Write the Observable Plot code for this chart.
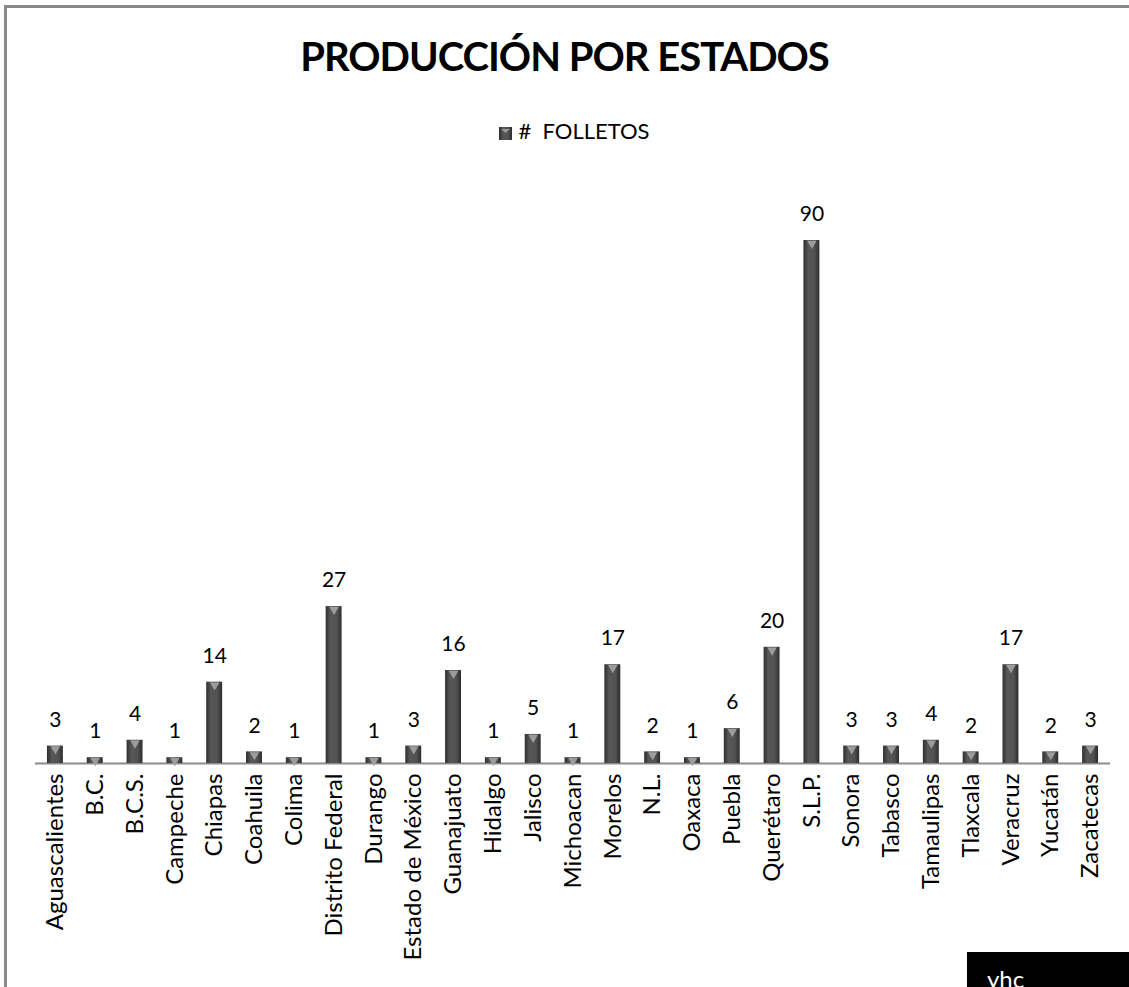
<!DOCTYPE html>
<html>
<head>
<meta charset="utf-8">
<script src="https://cdn.jsdelivr.net/npm/d3@7"></script>
<script src="https://cdn.jsdelivr.net/npm/@observablehq/plot@0.6"></script>
<style>
  html, body { margin: 0; padding: 0; background: #fff; overflow: hidden; }
  #page { position: relative; width: 1129px; height: 987px; overflow: hidden; font-family: Lato, "Open Sans", sans-serif; }
  #frame { position: absolute; left: 4px; top: 5px; width: 1140px; height: 1000px; border-top: 3px solid #8a8a8a; border-left: 3px solid #8a8a8a; box-sizing: border-box; }
  #title { position: absolute; left: 0; width: 1129px; top: 36px; text-align: center; font-weight: 700; font-size: 40px; letter-spacing: -1px; line-height: 1; color: #000; }
  #legend { position: absolute; left: 10px; width: 1129px; top: 120px; text-align: center; font-size: 22px; line-height: 1; color: #000; }
  #legend svg { vertical-align: -1px; margin-right: 6px; }
  #chart { position: absolute; left: 0; top: 160px; }
  #tag { position: absolute; left: 967px; top: 952px; width: 170px; height: 40px; background: #000; color: #fff; font-size: 24px; }
  #tag span { position: absolute; left: 20px; top: 15px; line-height: 1; }
</style>
</head>
<body>
<div id="page">
  <div id="frame"></div>
  <div id="title">PRODUCCIÓN POR ESTADOS</div>
  <div id="legend"><svg width="13" height="13"><defs><linearGradient id="legGrad" x1="0" x2="1"><stop offset="0" stop-color="#2f2f2f"/><stop offset="0.35" stop-color="#575757"/><stop offset="0.7" stop-color="#525252"/><stop offset="1" stop-color="#2c2c2c"/></linearGradient></defs><rect width="13" height="13" fill="url(#legGrad)"/><polygon points="2,2 11,2 6.5,6" fill="#9a9a9a"/></svg>#&nbsp;&nbsp;FOLLETOS</div>
  <div id="chart"></div>
  <div id="tag"><span>yhc</span></div>
</div>
<script>
const estados = ["Aguascalientes","B.C.","B.C.S.","Campeche","Chiapas","Coahuila","Colima","Distrito Federal","Durango","Estado de México","Guanajuato","Hidalgo","Jalisco","Michoacan","Morelos","N.L.","Oaxaca","Puebla","Querétaro","S.L.P.","Sonora","Tabasco","Tamaulipas","Tlaxcala","Veracruz","Yucatán","Zacatecas"];
const folletos = [3,1,4,1,14,2,1,27,1,3,16,1,5,1,17,2,1,6,20,90,3,3,4,2,17,2,3];

const data = estados.map((estado, i) => ({estado, n: folletos[i]}));

const chart = Plot.plot({
  width: 1129,
  height: 827,
  marginLeft: 35,
  marginRight: 19,
  marginTop: 80,
  marginBottom: 224,
  x: {domain: estados, paddingInner: 0.6, paddingOuter: 0.3, round: false, label: null, tickSize: 0, tickRotate: -90, tickPadding: 10},
  y: {domain: [0, 90], axis: null},
  style: {fontFamily: "Lato, 'Open Sans', sans-serif", fontSize: "24px", color: "#000", background: "transparent"},
  marks: [
    Plot.ruleY([0], {stroke: "#8c8c8c", strokeWidth: 2}),
    Plot.barY(data, {x: "estado", y: "n", fill: "url(#barGrad)"}),
    Plot.dot(data, {x: "estado", y: "n", symbol: "triangle", rotate: 180, r: 3.5, fill: "#9c9c9c", stroke: "none", dy: 3}),
    Plot.text(data, {x: "estado", y: "n", text: d => String(d.n), dy: -26, fontSize: 21, fill: "#000"})
  ]
});

const ns = "http://www.w3.org/2000/svg";
const defs = document.createElementNS(ns, "defs");
defs.innerHTML = '<linearGradient id="barGrad" x1="0" x2="1" y1="0" y2="0">' +
  '<stop offset="0" stop-color="#2f2f2f"/><stop offset="0.3" stop-color="#575757"/>' +
  '<stop offset="0.7" stop-color="#525252"/><stop offset="1" stop-color="#2c2c2c"/></linearGradient>';
chart.insertBefore(defs, chart.firstChild);
document.getElementById("chart").appendChild(chart);
</script>
</body>
</html>
